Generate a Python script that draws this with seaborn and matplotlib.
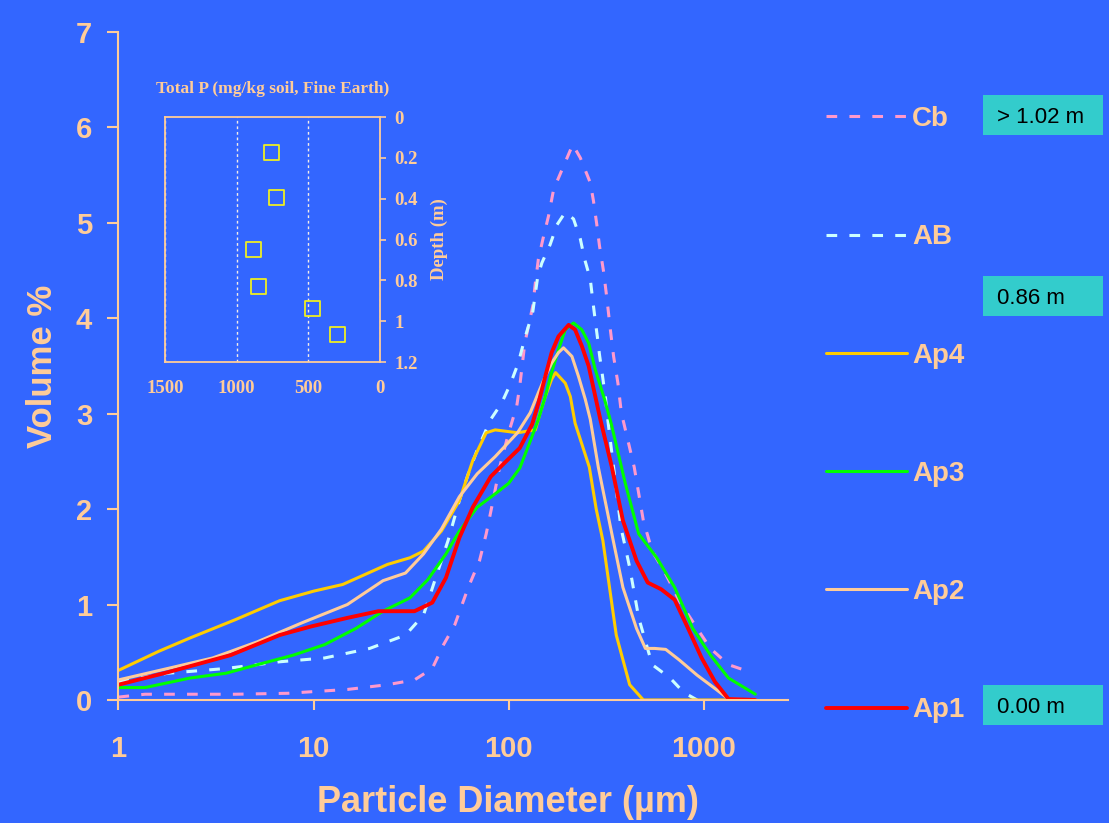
import numpy as np
import pandas as pd
import matplotlib
matplotlib.use("Agg")
import matplotlib.pyplot as plt
from matplotlib.patches import Rectangle
from matplotlib.lines import Line2D
from matplotlib.ticker import NullLocator
import seaborn as sns

# ---------------- data ----------------
cb_x = [1, 1.37, 3.96, 7.4, 8.76, 14.9, 23.9, 32.9, 40.6, 46.4, 53, 62.1, 70.9, 76.7, 83.2, 89.9,
        100, 110, 114, 121, 133, 137, 142, 151, 160, 170, 213, 233, 262, 272, 283, 292, 307, 319,
        332, 345, 363, 378, 440, 490, 544, 638, 748, 924, 1082, 1338, 1742]
cb_y = [0.03, 0.06, 0.06, 0.07, 0.08, 0.11, 0.16, 0.21, 0.33, 0.58, 0.79, 1.18, 1.46, 1.74, 2.09, 2.44,
        2.80, 3.08, 3.29, 3.74, 4.13, 4.37, 4.62, 4.86, 5.07, 5.35, 5.82, 5.68, 5.42, 5.23, 4.98, 4.76,
        4.48, 4.20, 3.88, 3.60, 3.32, 3.01, 2.44, 1.88, 1.56, 1.32, 1.04, 0.75, 0.54, 0.37, 0.29]

ab_x = [1, 1.79, 3.56, 6.7, 11.4, 19.4, 29.6, 36.6, 42.9, 48.9, 55.9, 62.1, 69, 80.9, 92, 102, 112,
        121, 133, 141, 148, 163, 177, 195, 215, 233, 245, 262, 270, 278, 285, 292, 301, 313, 322,
        376, 417, 464, 544, 672, 788, 924]
ab_y = [0.19, 0.28, 0.33, 0.40, 0.44, 0.54, 0.68, 0.89, 1.32, 1.67, 2.09, 2.37, 2.62, 2.94, 3.11, 3.31,
        3.53, 3.79, 4.07, 4.44, 4.58, 4.77, 4.98, 5.11, 5.04, 4.83, 4.62, 4.41, 4.18, 3.97, 3.80, 3.62,
        3.43, 3.18, 2.94, 1.81, 1.39, 0.86, 0.37, 0.23, 0.08, 0.0]

ap4_x = [1, 1.61, 2.33, 3.96, 6.7, 10, 14.1, 23.9, 31.2, 36.6, 45.2, 55.9, 65.5, 76.7, 85.3, 111,
         137, 145, 154, 166, 174, 195, 207, 219, 259, 281, 304, 356, 417, 490, 1338]
ap4_y = [0.31, 0.51, 0.65, 0.84, 1.04, 1.14, 1.21, 1.42, 1.49, 1.56, 1.77, 2.09, 2.51, 2.80, 2.83, 2.80,
         2.83, 3.01, 3.18, 3.36, 3.43, 3.32, 3.18, 2.90, 2.44, 2.00, 1.67, 0.68, 0.16, 0.0, 0.0]

ap3_x = [1, 1.37, 2.33, 3.56, 5.16, 7.88, 11.4, 16.5, 22.7, 31.2, 38.5, 47.7, 55.9, 69, 85.3, 100,
         114, 130, 142, 154, 166, 180, 195, 215, 237, 257, 278, 310, 335, 396, 464, 574, 709, 877,
         1082, 1338, 1837]
ap3_y = [0.13, 0.13, 0.23, 0.28, 0.37, 0.47, 0.58, 0.75, 0.93, 1.07, 1.26, 1.53, 1.77, 2.02, 2.16, 2.27,
         2.43, 2.73, 2.94, 3.18, 3.43, 3.67, 3.88, 3.95, 3.88, 3.74, 3.46, 3.15, 2.90, 2.27, 1.74, 1.49,
         1.18, 0.75, 0.47, 0.23, 0.06]

ap2_x = [1, 1.79, 3.04, 5.16, 8.76, 14.9, 22.7, 29.6, 36.6, 45.2, 55.9, 69, 85.3, 111, 129, 142, 154,
         166, 180, 191, 211, 228, 247, 262, 288, 338, 385, 452, 502, 560, 638, 748, 924, 1141, 1338,
         1837]
ap2_y = [0.21, 0.33, 0.44, 0.61, 0.81, 1.00, 1.25, 1.33, 1.53, 1.79, 2.13, 2.37, 2.55, 2.80, 3.01, 3.22,
         3.39, 3.53, 3.64, 3.69, 3.60, 3.39, 3.15, 2.94, 2.44, 1.74, 1.18, 0.75, 0.54, 0.54, 0.53, 0.42,
         0.26, 0.12, 0.01, 0.0]

ap1_x = [1, 1.79, 3.76, 6.7, 9.7, 14.9, 21.5, 32.9, 40.6, 47.7, 55.9, 65.5, 80.9, 94.8, 114, 132,
         142, 154, 166, 180, 203, 219, 237, 257, 278, 295, 338, 385, 452, 516, 605, 709, 831, 975,
         1141, 1338, 1837]
ap1_y = [0.16, 0.29, 0.47, 0.68, 0.77, 0.86, 0.93, 0.93, 1.02, 1.28, 1.70, 2.02, 2.34, 2.48, 2.64, 2.89,
         3.11, 3.39, 3.64, 3.81, 3.93, 3.88, 3.71, 3.50, 3.18, 2.94, 2.44, 1.88, 1.46, 1.23, 1.16, 1.05,
         0.75, 0.44, 0.19, 0.01, 0.0]

series_names = ["Cb", "AB", "Ap4", "Ap3", "Ap2", "Ap1"]
depth_labels = ["> 1.02 m", "0.86 m", "0.00 m"]

# inset data: total P vs depth
total_p = [755, 725, 880, 845, 470, 300]
depth_m = [0.175, 0.395, 0.647, 0.828, 0.937, 1.066]

x_ticks = [1, 10, 100, 1000]
x_tick_labels = ["1", "10", "100", "1000"]
y_ticks = [0, 1, 2, 3, 4, 5, 6, 7]
inset_x_ticks = [1500, 1000, 500, 0]
inset_y_ticks = [0, 0.2, 0.4, 0.6, 0.8, 1.0, 1.2]
inset_y_labels = ["0", "0.2", "0.4", "0.6", "0.8", "1", "1.2"]

# ---------------- style ----------------
BG = "#3366FF"
PEACH = "#FFCC99"
sns.set_style("ticks")
plt.rcParams["font.family"] = ["Liberation Sans", "DejaVu Sans"]
plt.rcParams["font.weight"] = "bold"
plt.rcParams["axes.labelweight"] = "bold"

styles = {
    "Cb":  dict(color="#FF99CC", lw=2.2, ls=(0, (3.5, 4))),
    "AB":  dict(color="#CCFFFF", lw=2.2, ls=(0, (3.5, 4))),
    "Ap4": dict(color="#FFCC00", lw=2.2, ls="-"),
    "Ap3": dict(color="#00FF00", lw=2.2, ls="-"),
    "Ap2": dict(color="#FFCC99", lw=2.2, ls="-"),
    "Ap1": dict(color="#FF0000", lw=2.8, ls="-"),
}
data = {
    "Cb": (cb_x, cb_y), "AB": (ab_x, ab_y), "Ap4": (ap4_x, ap4_y),
    "Ap3": (ap3_x, ap3_y), "Ap2": (ap2_x, ap2_y), "Ap1": (ap1_x, ap1_y),
}

fig = plt.figure(figsize=(11.09, 8.23), dpi=100, facecolor=BG)
ax = fig.add_axes([0.1068, 0.1495, 0.6037, 0.8117])
ax.set_facecolor(BG)

for name in series_names:
    xs, ys = data[name]
    st = styles[name]
    df = pd.DataFrame({"size": xs, "vol": ys})
    sns.lineplot(data=df, x="size", y="vol", ax=ax, color=st["color"], linewidth=st["lw"],
                 linestyle=st["ls"], estimator=None, sort=True, label=name)

if ax.get_legend() is not None:
    ax.get_legend().remove()

ax.set_xscale("log")
ax.set_xlim(1, 2700)
ax.set_ylim(0, 7)
ax.set_xticks(x_ticks)
ax.set_xticklabels(x_tick_labels)
ax.xaxis.set_minor_locator(NullLocator())
ax.set_yticks(y_ticks)
for s in ["top", "right"]:
    ax.spines[s].set_visible(False)
for s in ["left", "bottom"]:
    ax.spines[s].set_color(PEACH)
    ax.spines[s].set_linewidth(1.5)
ax.tick_params(axis="both", colors=PEACH, labelcolor=PEACH, width=1.5, direction="out", labelsize=21)
ax.tick_params(axis="y", length=8, pad=11)
ax.tick_params(axis="x", length=7, pad=18)

ax.set_xlabel("Particle Diameter (µm)", fontsize=26, color=PEACH, fontweight="bold")
ax.set_ylabel("Volume %", fontsize=25, color=PEACH, fontweight="bold")
ax.xaxis.set_label_coords(0.582, -0.154)
ax.xaxis.label.set_va("center")
ax.yaxis.set_label_coords(-0.113, 0.5)
ax.yaxis.label.set_va("center")

# legend
handles = [Line2D([], [], color=styles[n]["color"], lw=styles[n]["lw"], ls=styles[n]["ls"])
           for n in series_names]
fig.legend(handles, series_names, loc="upper left", bbox_to_anchor=(0.7448, 0.871),
           frameon=False, prop=dict(size=20, weight="bold"), labelcolor=PEACH,
           labelspacing=3.32, handlelength=2.9, handletextpad=0.2, borderpad=0, borderaxespad=0)

# depth boxes
W, H = 1109.0, 823.0
for label, yc in zip(depth_labels, [115, 296, 705]):
    fig.add_artist(Rectangle((983 / W, 1 - (yc + 20) / H), 120 / W, 40 / H,
                             transform=fig.transFigure, facecolor="#33CCCC", edgecolor="none"))
    fig.text(997 / W, 1 - yc / H, label, ha="left", va="center_baseline", fontsize=16,
             fontweight="normal", color="black", family=["Liberation Sans", "DejaVu Sans"])

# ---------------- inset ----------------
SERIF = ["Liberation Serif", "DejaVu Serif"]
ax2 = fig.add_axes([0.1488, 0.5601, 0.1939, 0.2977])
ax2.set_facecolor("none")
sns.scatterplot(x=total_p, y=depth_m, ax=ax2, marker="s", s=118, facecolor="none",
                edgecolor="#EEEE22", linewidth=1.3, zorder=3)
ax2.set_xlim(1500, 0)
ax2.set_ylim(1.2, 0)
ax2.set_xticks(inset_x_ticks)
ax2.set_yticks(inset_y_ticks)
ax2.set_yticklabels(inset_y_labels)
ax2.yaxis.tick_right()
ax2.yaxis.set_label_position("right")
for s in ax2.spines.values():
    s.set_color(PEACH)
    s.set_linewidth(1.3)
ax2.grid(axis="x", color="#F4ECE8", linestyle=(0, (2, 2)), linewidth=1.0)
ax2.grid(axis="y", visible=False)
ax2.tick_params(axis="x", length=0, pad=13, labelcolor=PEACH, labelsize=13.5)
ax2.tick_params(axis="y", length=4.3, width=1.2, color=PEACH, direction="out", pad=6,
                labelcolor=PEACH, labelsize=13.5, left=False, right=True)
for lab in ax2.get_xticklabels() + ax2.get_yticklabels():
    lab.set_family(SERIF)
    lab.set_fontweight("bold")
ax2.set_ylabel("Depth (m)", fontsize=13.5, color=PEACH, family=SERIF, fontweight="bold",
               rotation=90, labelpad=9)
ax2.set_xlabel("")
ax2.set_title("Total P (mg/kg soil, Fine Earth)", fontsize=12.5, color=PEACH, family=SERIF,
              fontweight="bold", pad=17)

fig.savefig("out.png", dpi=100, facecolor=BG)
